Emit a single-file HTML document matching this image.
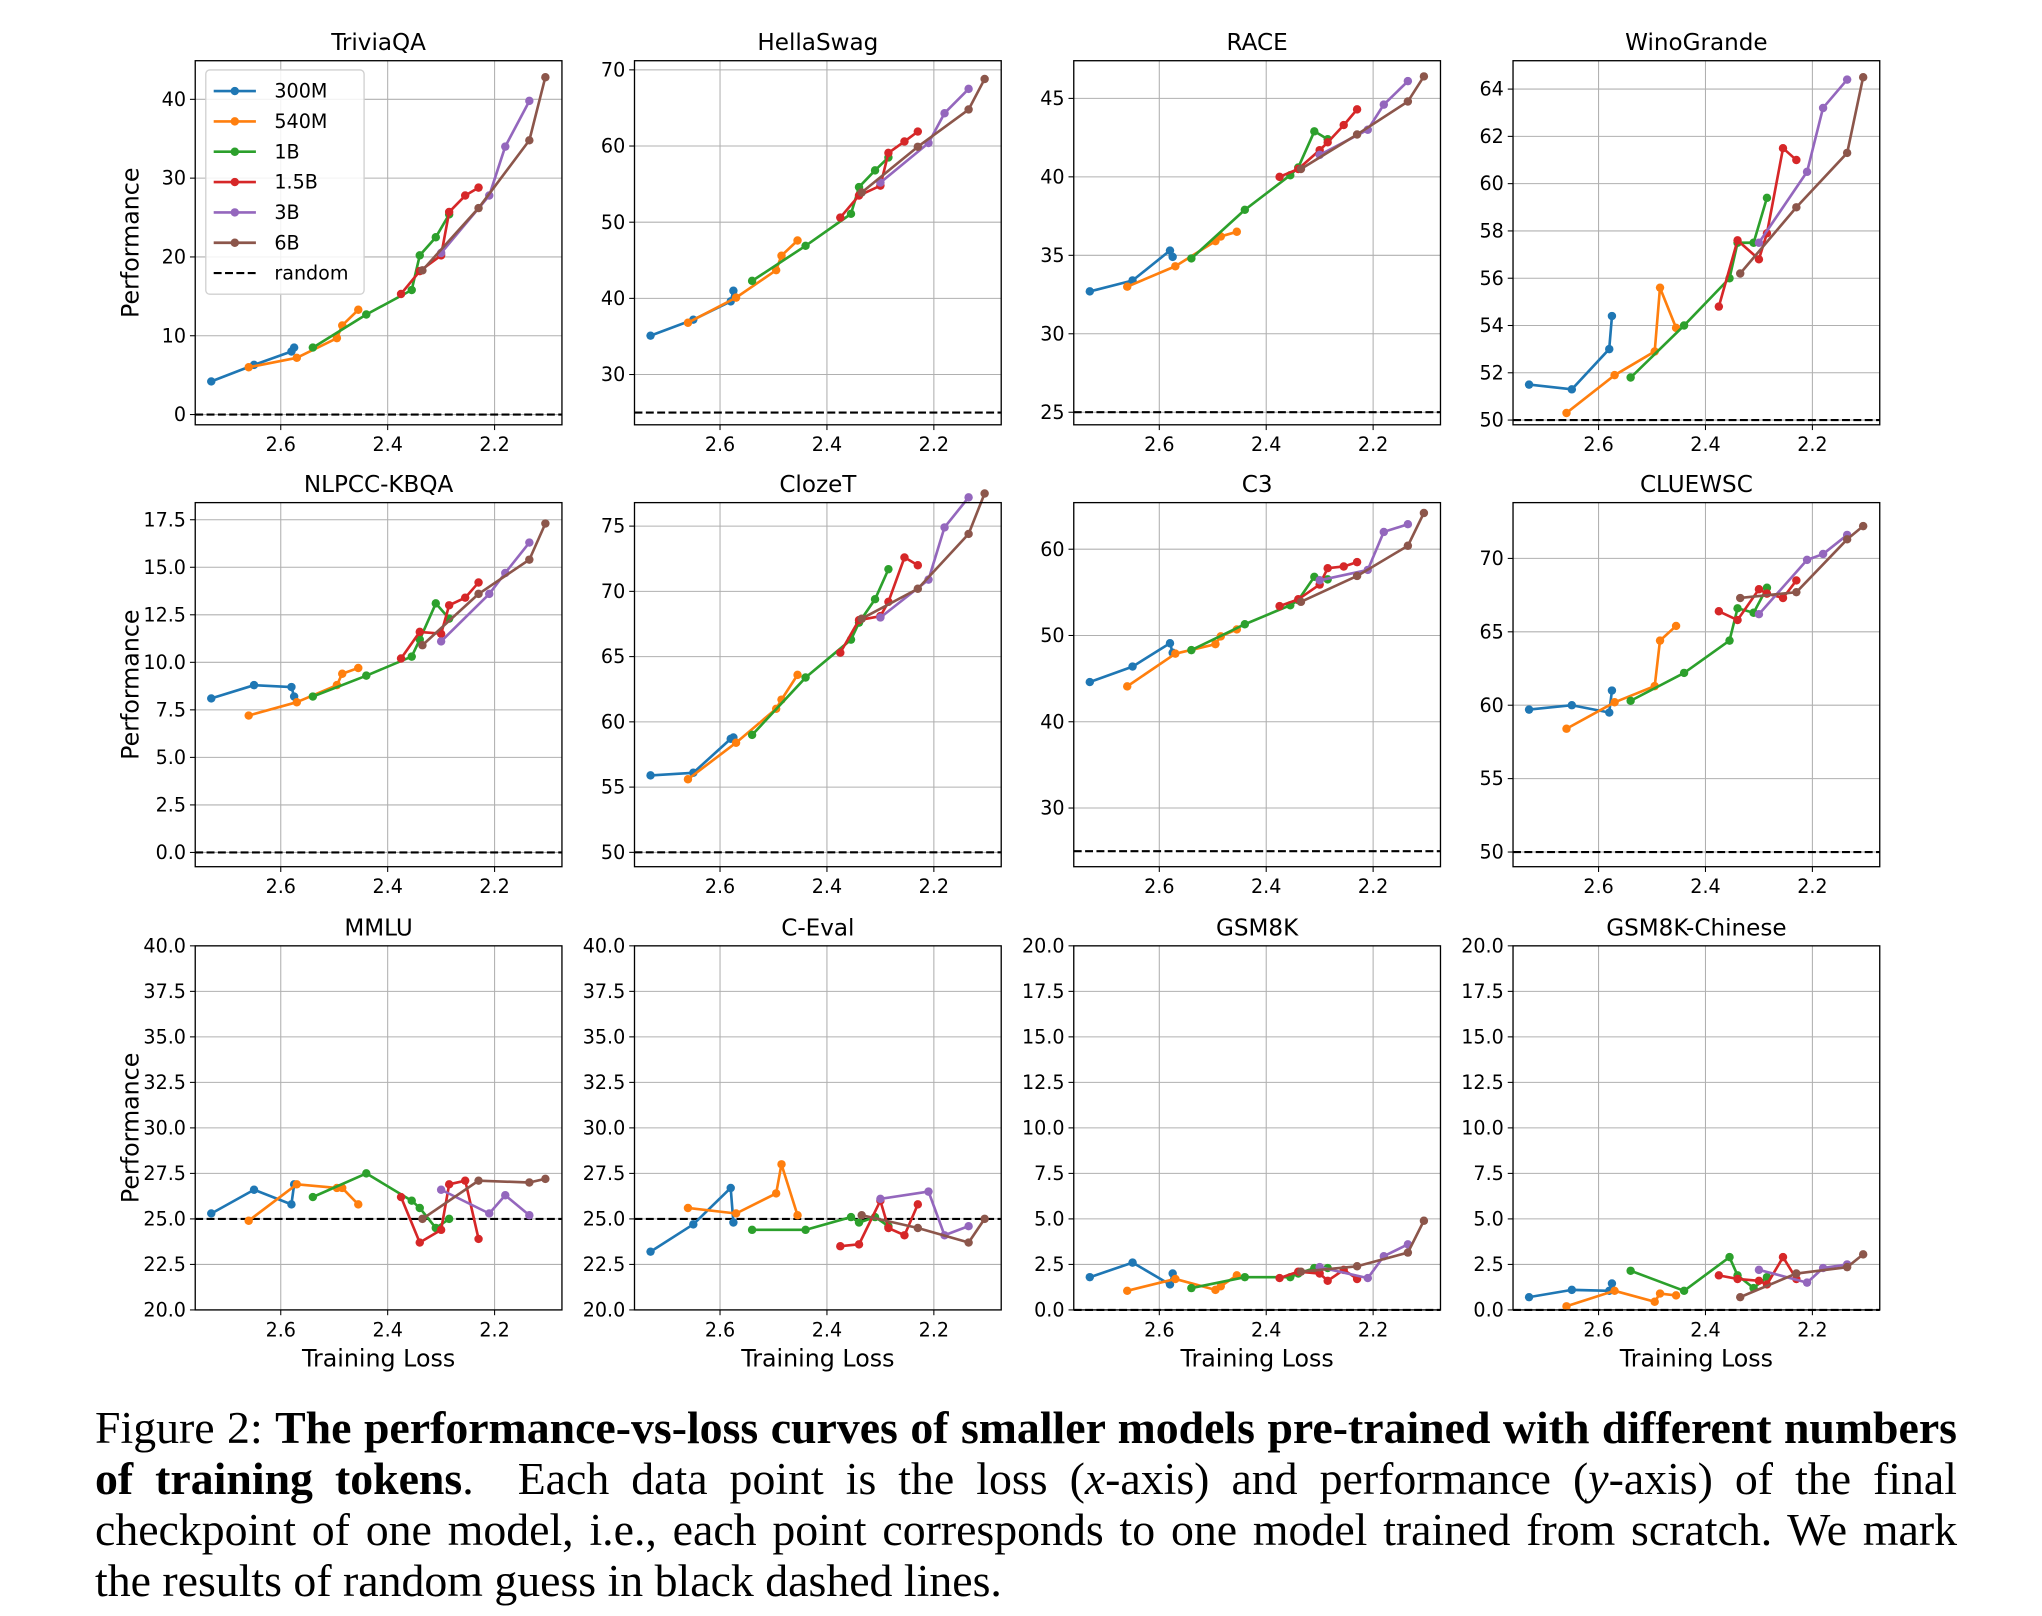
<!DOCTYPE html>
<html><head><meta charset="utf-8">
<style>
html,body{margin:0;padding:0;background:#fff;}
#wrap{position:relative;width:2042px;height:1616px;overflow:hidden;}
svg{position:absolute;left:0;top:0;}
#caption{position:absolute;left:95px;top:1402px;width:1862px;font-family:"Liberation Serif",serif;font-size:45.8px;line-height:51px;text-align:justify;color:#000;}
</style></head>
<body>
<div id="wrap">
<svg id="fig" width="2042" height="1616" viewBox="0 0 1548 1225"></svg>
<div id="caption">Figure 2: <b>The performance-vs-loss curves of smaller models pre-trained with different numbers of training tokens</b>. &nbsp;Each data point is the loss (<i>x</i>-axis) and performance (<i>y</i>-axis) of the final checkpoint of one model, i.e., each point corresponds to one model trained from scratch. We mark the results of random guess in black dashed lines.</div>
</div>
<script>
const sizes=["300M","540M","1B","1.5B","3B","6B"];
const colors=["#1f77b4","#ff7f0e","#2ca02c","#d62728","#9467bd","#8c564b"];
const X300=[2.73,2.65,2.58,2.575];
const X540=[2.66,2.57,2.495,2.485,2.455];
const X1B=[2.54,2.44,2.355,2.34,2.31,2.285];
const X15=[2.375,2.34,2.30,2.285,2.255,2.23];
const X3=[2.30,2.21,2.18,2.135];
const X6=[2.335,2.23,2.135,2.105];
const titles=["TriviaQA","HellaSwag","RACE","WinoGrande","NLPCC-KBQA","ClozeT","C3","CLUEWSC","MMLU","C-Eval","GSM8K","GSM8K-Chinese"];
const randomLine=[0,25,25,50,0,50,25,50,25,25,0,0];
const yTicks=[[0,10,20,30,40],[30,40,50,60,70],[25,30,35,40,45],[50,52,54,56,58,60,62,64],
[0,2.5,5,7.5,10,12.5,15,17.5],[50,55,60,65,70,75],[30,40,50,60],[50,55,60,65,70],
[20,22.5,25,27.5,30,32.5,35,37.5,40],[20,22.5,25,27.5,30,32.5,35,37.5,40],[0,2.5,5,7.5,10,12.5,15,17.5,20],[0,2.5,5,7.5,10,12.5,15,17.5,20]];
const yDecimals=[0,0,0,0,1,0,0,0,1,1,1,1];
const yLims=[[-1.3,44.9],[23.4,71.2],[24.2,47.4],[49.8,65.2],[-0.75,18.4],[48.9,76.8],[23.2,65.4],[49.0,73.8],[20,40],[20,40],[0,20],[0,20]];
const xTicks=[2.6,2.4,2.2];
const xLim=[2.76,2.074];
const v300=[[4.2,6.3,8.0,8.5],[35.1,37.2,39.6,41.0],[32.7,33.4,35.3,34.9],[51.5,51.3,53.0,54.4],[8.1,8.8,8.7,8.2],[55.9,56.1,58.7,58.8],[44.6,46.4,49.1,48.0],[59.7,60.0,59.5,61.0],[25.3,26.6,25.8,26.9],[23.2,24.7,26.7,24.8],[1.8,2.6,1.4,2.0],[0.7,1.1,1.05,1.45]];
const v540=[[6.0,7.2,9.7,11.3,13.3],[36.8,40.1,43.7,45.6,47.6],[33.0,34.3,35.9,36.2,36.5],[50.3,51.9,52.9,55.6,53.9],[7.2,7.9,8.8,9.4,9.7],[55.6,58.4,61.0,61.7,63.6],[44.1,47.9,49.0,49.9,50.7],[58.4,60.2,61.3,64.4,65.4],[24.9,26.9,26.7,26.7,25.8],[25.6,25.3,26.4,28.0,25.2],[1.05,1.7,1.1,1.3,1.9],[0.2,1.05,0.45,0.9,0.8]];
const v1B=[[8.5,12.7,15.8,20.2,22.5,25.4],[42.3,46.9,51.1,54.6,56.8,58.5],[34.8,37.9,40.1,40.6,42.9,42.4],[51.8,54.0,56.0,57.5,57.5,59.4],[8.2,9.3,10.3,11.2,13.1,12.3],[59.0,63.4,66.3,67.6,69.4,71.7],[48.3,51.3,53.5,54.1,56.8,56.5],[60.3,62.2,64.4,66.6,66.3,68.0],[26.2,27.5,26.0,25.6,24.5,25.0],[24.4,24.4,25.1,24.8,25.1,24.6],[1.2,1.8,1.8,2.0,2.3,2.3],[2.15,1.05,2.9,1.9,1.2,1.8]];
const v15=[[15.3,18.2,20.2,25.7,27.8,28.8],[50.6,53.5,54.8,59.1,60.6,61.9],[40.0,40.5,41.7,42.2,43.3,44.3],[54.8,57.6,56.8,57.9,61.5,61.0],[10.2,11.6,11.5,13.0,13.4,14.2],[65.3,67.8,68.1,69.2,72.6,72.0],[53.4,54.2,55.9,57.8,58.0,58.5],[66.4,65.8,67.9,67.6,67.3,68.5],[26.2,23.7,24.4,26.9,27.1,23.9],[23.5,23.6,26.0,24.5,24.1,25.8],[1.75,2.1,2.0,1.6,2.2,1.7],[1.9,1.7,1.6,1.4,2.9,1.7]];
const v3=[[20.5,27.8,34.0,39.8],[55.2,60.4,64.3,67.5],[41.4,43.0,44.6,46.1],[57.5,60.5,63.2,64.4],[11.1,13.6,14.7,16.3],[68.0,70.9,74.9,77.2],[56.4,57.6,62.0,62.9],[66.2,69.9,70.3,71.6],[26.6,25.3,26.3,25.2],[26.1,26.5,24.1,24.6],[2.35,1.75,2.95,3.6],[2.2,1.5,2.3,2.5]];
const v6=[[18.3,26.2,34.8,42.8],[53.9,59.9,64.8,68.8],[40.5,42.7,44.8,46.4],[56.2,59.0,61.3,64.5],[10.9,13.6,15.4,17.3],[67.9,70.2,74.4,77.5],[53.9,56.9,60.4,64.2],[67.3,67.7,71.3,72.2],[25.0,27.1,27.0,27.2],[25.2,24.5,23.7,25.0],[2.1,2.4,3.15,4.9],[0.7,2.0,2.35,3.05]];
const allX=[X300,X540,X1B,X15,X3,X6];
const allV=[v300,v540,v1B,v15,v3,v6];

const NS="http://www.w3.org/2000/svg";
const svg=document.getElementById('fig');
function mk(tag,attrs,parent){const e=document.createElementNS(NS,tag);for(const k in attrs)e.setAttribute(k,attrs[k]);(parent||svg).appendChild(e);return e;}
const colL=[148,481,814,1147], W=278;
const rowT=[46,381,717], H=276;
const FONT="DejaVu Sans, Liberation Sans, sans-serif";
for(let p=0;p<12;p++){
  const r=Math.floor(p/4), c=p%4;
  const L=colL[c], T=rowT[r], R=L+W, B=T+H;
  const g=mk('g',{});
  
  
  const xs=v=>L+(v-xLim[0])/(xLim[1]-xLim[0])*W;
  const ys=v=>B-(v-yLims[p][0])/(yLims[p][1]-yLims[p][0])*H;
  xTicks.forEach(t=>{
    const x=xs(t);
    const gl=mk('line',{x1:x,x2:x,y1:T,y2:B,stroke:'#b0b0b0','stroke-width':0.8},g);
    
    mk('line',{x1:x,x2:x,y1:B,y2:B+4,stroke:'#000','stroke-width':0.8},g);
    const tx=mk('text',{x:x,y:B+20,'font-size':14.5,'font-family':FONT,'text-anchor':'middle'},g);
    tx.textContent=t.toFixed(1);
    
  });
  yTicks[p].forEach(t=>{
    const y=ys(t);
    const gl=mk('line',{x1:L,x2:R,y1:y,y2:y,stroke:'#b0b0b0','stroke-width':0.8},g);
    
    mk('line',{x1:L-4,x2:L,y1:y,y2:y,stroke:'#000','stroke-width':0.8},g);
    const tx=mk('text',{x:L-7,y:y+5,'font-size':14.5,'font-family':FONT,'text-anchor':'end'},g);
    tx.textContent=t.toFixed(yDecimals[p]);
    
  });
  const rl=mk('line',{x1:L,x2:R,y1:ys(randomLine[p]),y2:ys(randomLine[p]),stroke:'#000','stroke-width':1.6,'stroke-dasharray':'6,2.6'},g);
  
  for(let s=0;s<6;s++){
    const pts=allX[s].map((x,i)=>xs(x).toFixed(1)+','+ys(allV[s][p][i]).toFixed(1)).join(' ');
    const pl=mk('polyline',{points:pts,fill:'none',stroke:colors[s],'stroke-width':2,'stroke-linejoin':'round'},g);
    
    
    allX[s].forEach((x,i)=>{
      const cc=mk('circle',{cx:xs(x),cy:ys(allV[s][p][i]),r:3.2,fill:colors[s]},g);
      
    });
  }
  const fr=mk('rect',{x:L,y:T,width:W,height:H,fill:'none',stroke:'#000','stroke-width':1},g);
  
  const tt=mk('text',{x:L+W/2,y:T-8,'font-size':17.5,'font-family':FONT,'text-anchor':'middle'},g);
  tt.textContent=titles[p];
  
  if(c===0){
    const yl=mk('text',{x:0,y:0,'font-size':18,'font-family':FONT,'text-anchor':'middle',transform:`translate(${L-43},${T+H/2}) rotate(-90)`},g);
    yl.textContent='Performance';
    
  }
  if(r===2){
    const xl=mk('text',{x:L+W/2,y:B+43,'font-size':18,'font-family':FONT,'text-anchor':'middle'},g);
    xl.textContent='Training Loss';
    
  }
  if(p===0){
    const lg=mk('g',{},g);
    
    mk('rect',{x:156,y:53,width:120,height:170,rx:3,fill:'#fff','fill-opacity':0.85,stroke:'#d0d0d0','stroke-width':1},lg);
    const labels=sizes.concat(['random']);
    labels.forEach((lab,i)=>{
      const y=69+i*23;
      const e=mk('g',{},lg);
      
      if(i<6){
        mk('line',{x1:162,x2:194,y1:y,y2:y,stroke:colors[i],'stroke-width':2},e);
        mk('circle',{cx:178,cy:y,r:3.2,fill:colors[i]},e);
      } else {
        mk('line',{x1:162,x2:194,y1:y,y2:y,stroke:'#000','stroke-width':1.6,'stroke-dasharray':'6,2.6'},e);
      }
      const t=mk('text',{x:208,y:y+5,'font-size':14.5,'font-family':FONT},e);
      t.textContent=lab;
    });
  }
}
</script>
</body></html>
